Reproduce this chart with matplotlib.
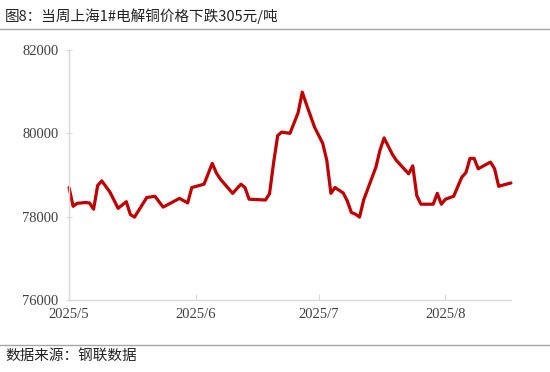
import pandas as pd
import matplotlib
matplotlib.use("Agg")
import matplotlib.pyplot as plt
from matplotlib.lines import Line2D

# 上海1#电解铜价格（元/吨），读图估计
dates = ["2025-05-01", "2025-05-02", "2025-05-03", "2025-05-05", "2025-05-06", "2025-05-07",
         "2025-05-08", "2025-05-09", "2025-05-11", "2025-05-13", "2025-05-15", "2025-05-16",
         "2025-05-17", "2025-05-20", "2025-05-22", "2025-05-24", "2025-05-28", "2025-05-30",
         "2025-05-31", "2025-06-03", "2025-06-05", "2025-06-06", "2025-06-07", "2025-06-10",
         "2025-06-12", "2025-06-13", "2025-06-14", "2025-06-18", "2025-06-19", "2025-06-20",
         "2025-06-21", "2025-06-22", "2025-06-24", "2025-06-26", "2025-06-27", "2025-06-28",
         "2025-06-30", "2025-07-02", "2025-07-03", "2025-07-04", "2025-07-05", "2025-07-07",
         "2025-07-08", "2025-07-09", "2025-07-10", "2025-07-11", "2025-07-12", "2025-07-15",
         "2025-07-16", "2025-07-17", "2025-07-19", "2025-07-20", "2025-07-23", "2025-07-24",
         "2025-07-25", "2025-07-26", "2025-07-29", "2025-07-30", "2025-07-31", "2025-08-01",
         "2025-08-03", "2025-08-05", "2025-08-06", "2025-08-07", "2025-08-08", "2025-08-09",
         "2025-08-12", "2025-08-13", "2025-08-14", "2025-08-17"]
prices = [78700, 78250, 78320, 78340, 78330, 78180,
          78750, 78860, 78590, 78200, 78360, 78050,
          77990, 78460, 78490, 78230, 78440, 78330,
          78700, 78780, 79280, 79050, 78900, 78560,
          78780, 78700, 78420, 78400, 78550, 79300,
          79950, 80030, 80000, 80500, 80990, 80700,
          80150, 79760, 79350, 78560, 78700, 78570,
          78380, 78100, 78060, 77990, 78400, 79190,
          79600, 79890, 79500, 79350, 79030, 79220,
          78500, 78300, 78300, 78560, 78300, 78420,
          78490, 78950, 79060, 79400, 79400, 79150,
          79310, 79150, 78730, 78810]

y_ticks = [76000, 78000, 80000, 82000]
x_ticks = ["2025-05-01", "2025-06-01", "2025-07-01", "2025-08-01"]
x_labels = ["2025/5", "2025/6", "2025/7", "2025/8"]

title = "图8：当周上海1#电解铜价格下跌305元/吨"
source = "数据来源：钢联数据"

df = pd.DataFrame({"date": pd.to_datetime(dates), "price": prices})

fig = plt.figure(figsize=(5.5, 3.72), dpi=100)
ax = fig.add_axes([0.1255, 0.1935, 0.8035, 0.672])

ax.plot(df["date"], df["price"], color="#C00000", linewidth=2.3,
        solid_joinstyle="round", solid_capstyle="round", clip_on=False)

ax.set_ylim(76000, 82000)
ax.set_yticks(y_ticks)
ax.set_xlim(pd.Timestamp("2025-05-01"), df["date"].iloc[-1])
ax.set_xticks(pd.to_datetime(x_ticks))
ax.set_xticklabels(x_labels)

for side in ["top", "right"]:
    ax.spines[side].set_visible(False)
for side in ["left", "bottom"]:
    ax.spines[side].set_color("#d9d9d9")
    ax.spines[side].set_linewidth(1.0)

ax.tick_params(axis="y", direction="inout", length=5, color="#d9d9d9", pad=5)
ax.tick_params(axis="x", direction="in", length=4, color="#d9d9d9", pad=6)
for lbl in ax.get_xticklabels() + ax.get_yticklabels():
    lbl.set_fontfamily("Liberation Serif")
    lbl.set_fontsize(10.5)
    lbl.set_color("#404040")

# 标题与来源
fig.text(0.009, 0.957, title, fontsize=10.5, color="#222222", va="center", ha="left",
         family=["Noto Sans CJK SC", "DejaVu Sans"])
fig.text(0.009, 0.043, source, fontsize=10.5, color="#222222", va="center", ha="left",
         family=["Noto Sans CJK SC", "DejaVu Sans"])
fig.add_artist(Line2D([0, 1], [0.922, 0.922], color="#a6a6a6", linewidth=1.0))
fig.add_artist(Line2D([0, 1], [0.073, 0.073], color="#a6a6a6", linewidth=1.0))

fig.savefig("out.png", dpi=100)
